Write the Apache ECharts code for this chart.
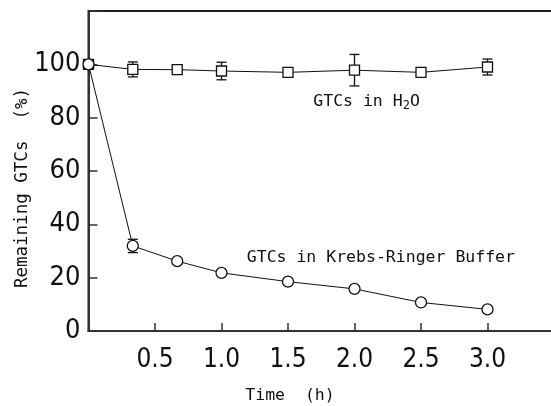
<!DOCTYPE html>
<html><head><meta charset="utf-8">
<script src="https://cdn.jsdelivr.net/npm/echarts@6/dist/echarts.min.js"></script>
<style>html,body{margin:0;padding:0;background:#fff}#c{width:551px;height:406px}</style>
</head><body><div id="c"></div>
<script>
const times = [0, 0.333, 0.667, 1.0, 1.5, 2.0, 2.5, 3.0];
const h2oMean = [100, 98.1, 98.0, 97.5, 97.0, 97.8, 97.0, 99.0];
const h2oErr = [0, 2.8, 0, 3.3, 0, 5.9, 0, 3.0];
const krbMean = [100, 31.9, 26.2, 21.8, 18.5, 15.8, 10.7, 8.1];
const krbErr = [0, 2.5, 0, 0, 0, 0, 0, 0];
const xTickValues = [0.5, 1.0, 1.5, 2.0, 2.5, 3.0];
const xTickLabels = ['0.5', '1.0', '1.5', '2.0', '2.5', '3.0'];
const yTickValues = [0, 20, 40, 60, 80, 100];
const yTickLabels = ['0', '20', '40', '60', '80', '100'];
const xTitle = 'Time  (h)';
const yTitle = 'Remaining GTCs  (%)';
const labelH2O = 'GTCs in H';
const labelKrebs = 'GTCs in Krebs-Ringer Buffer';

const numFont = "'DejaVu Sans Condensed','Liberation Sans Narrow','DejaVu Sans',sans-serif";
const monoFont = "'DejaVu Sans Mono','Liberation Mono',monospace";

function pairs(xs, ys) { return xs.map((x, i) => [x, ys[i]]); }
function errData(xs, m, e) {
  const out = [];
  xs.forEach((x, i) => { if (e[i] > 0) out.push([x, m[i] - e[i], m[i] + e[i]]); });
  return out;
}
function errRender(params, api) {
  const x = api.value(0), lo = api.value(1), hi = api.value(2);
  const a = api.coord([x, hi]), b = api.coord([x, lo]);
  const w = 5;
  const st = { stroke: '#111', lineWidth: 1.3 };
  return { type: 'group', children: [
    { type: 'line', shape: { x1: a[0], y1: a[1], x2: b[0], y2: b[1] }, style: st },
    { type: 'line', shape: { x1: a[0] - w, y1: a[1], x2: a[0] + w, y2: a[1] }, style: st },
    { type: 'line', shape: { x1: b[0] - w, y1: b[1], x2: b[0] + w, y2: b[1] }, style: st }
  ]};
}

const chart = echarts.init(document.getElementById('c'));
chart.setOption({
  animation: false,
  backgroundColor: '#fff',
  grid: { left: 88.5, width: 465.5, top: 11, bottom: 75, containLabel: false, outerBoundsMode: 'none',
    show: true, borderColor: '#222', borderWidth: 2, backgroundColor: 'transparent' },
  xAxis: {
    type: 'value', min: 0, max: 3.5, interval: 0.5,
    axisLine: { lineStyle: { color: '#333', width: 2 } },
    axisTick: { inside: true, length: 8, lineStyle: { color: '#333', width: 1.5 } },
    splitLine: { show: false },
    axisLabel: { margin: 16, color: '#111', fontSize: 26, fontFamily: numFont,
      formatter: v => { const i = xTickValues.findIndex(t => Math.abs(t - v) < 1e-6); return i >= 0 ? xTickLabels[i] : ''; } }
  },
  yAxis: {
    type: 'value', min: 0, max: 120, interval: 20,
    axisLine: { lineStyle: { color: '#333', width: 2 } },
    axisTick: { inside: true, length: 9, lineStyle: { color: '#333', width: 1.5 } },
    splitLine: { show: false },
    axisLabel: { margin: 8, color: '#111', fontSize: 27, fontFamily: numFont,
      formatter: v => { const i = yTickValues.indexOf(v); return i >= 0 ? yTickLabels[i] : ''; } }
  },
  series: [
    { type: 'custom', renderItem: errRender, data: errData(times, h2oMean, h2oErr), z: 1, encode: { x: 0, y: [1, 2] } },
    { type: 'custom', renderItem: errRender, data: errData(times, krbMean, krbErr), z: 1, encode: { x: 0, y: [1, 2] } },
    { type: 'line', data: pairs(times, h2oMean), symbol: 'rect', symbolSize: 10, z: 3,
      lineStyle: { color: '#111', width: 1 }, itemStyle: { color: '#fff', borderColor: '#111', borderWidth: 1.3 } },
    { type: 'line', data: pairs(times, krbMean), symbol: 'circle', symbolSize: 11, z: 3,
      lineStyle: { color: '#111', width: 1 }, itemStyle: { color: '#fff', borderColor: '#111', borderWidth: 1.3 } }
  ]
});

const pH2O = chart.convertToPixel({ gridIndex: 0 }, [1.69, 86]);
const pKrb = chart.convertToPixel({ gridIndex: 0 }, [1.19, 27.5]);
chart.setOption({
  graphic: [
    { type: 'text', x: 22, y: 188, rotation: Math.PI / 2,
      style: { text: yTitle, font: '17.5px ' + monoFont, fill: '#111', align: 'center', verticalAlign: 'middle' } },
    { type: 'text', x: 290, y: 396,
      style: { text: xTitle, font: '16.5px ' + monoFont, fill: '#111', align: 'center', verticalAlign: 'middle' } },
    { type: 'text', x: pH2O[0], y: pH2O[1],
      style: { text: '{a|' + labelH2O + '}{s|2}{a|O}', fill: '#111', align: 'left', verticalAlign: 'middle',
        rich: { a: { font: '16.5px ' + monoFont, fill: '#111' }, s: { font: '12px ' + monoFont, fill: '#111', padding: [8, 0, 0, 0] } } } },
    { type: 'text', x: pKrb[0], y: pKrb[1],
      style: { text: labelKrebs, font: '16.5px ' + monoFont, fill: '#111', align: 'left', verticalAlign: 'middle' } }
  ]
});
</script></body></html>
